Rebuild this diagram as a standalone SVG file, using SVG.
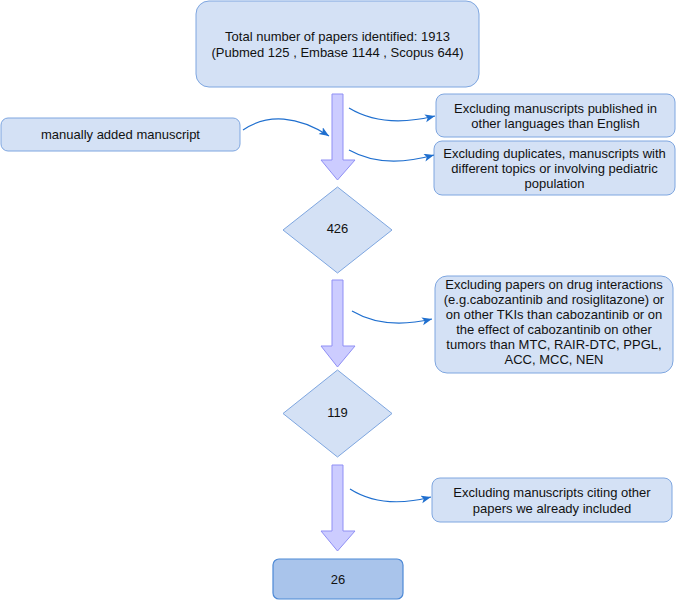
<svg xmlns="http://www.w3.org/2000/svg" width="676" height="604" viewBox="0 0 676 604">
<style>
text{font-family:"Liberation Sans",Arial,Helvetica,sans-serif;font-size:13px;fill:#111;text-anchor:middle}
.box{fill:#d4e1f5;stroke:#7ea6e0;stroke-width:1}
.final{fill:#a9c4eb;stroke:#4d89d6;stroke-width:1.2}
.big{fill:#ccccff;stroke:#8f8ff5;stroke-width:1}
.con{fill:none;stroke:#1f6fcf;stroke-width:1.2}
</style>
<defs>
<marker id="ah" markerUnits="userSpaceOnUse" markerWidth="11" markerHeight="9" refX="10" refY="4" orient="auto" viewBox="0 0 11 9">
<path d="M0,0 L10,4 L0,8 L2.5,4 z" fill="#1f6fcf"/>
</marker>
</defs>
<rect width="676" height="604" fill="#fff"/>
<g id="n-total">
<rect class="box" x="196" y="1" width="283" height="86" rx="13"/>
<text x="337.5" y="40.5">Total number of papers identified: 1913</text>
<text x="337.5" y="56.5">(Pubmed 125 , Embase 1144 , Scopus 644)</text>
</g>
<g id="n-manual">
<rect class="box" x="1" y="118" width="239" height="33" rx="7"/>
<text x="120.5" y="138.5">manually added manuscript</text>
</g>
<g id="n-excl-lang">
<rect class="box" x="436" y="94" width="239" height="43" rx="8"/>
<text x="555.5" y="113">Excluding manuscripts published in</text>
<text x="555.5" y="128">other languages than English</text>
</g>
<g id="n-excl-dup">
<rect class="box" x="434" y="141" width="241" height="54" rx="8"/>
<text x="554.5" y="157.5">Excluding duplicates, manuscripts with</text>
<text x="554.5" y="172.5">different topics or involving pediatric</text>
<text x="554.5" y="187.5">population</text>
</g>
<g id="n-426">
<polygon class="box" points="337.5,187 392,230 337.5,273 283,230"/>
<text x="337.5" y="232.5">426</text>
</g>
<g id="n-excl-drug">
<rect class="box" x="435" y="276" width="238" height="97" rx="12"/>
<text x="554" y="289">Excluding papers on drug interactions</text>
<text x="554" y="304">(e.g.cabozantinib and rosiglitazone) or</text>
<text x="554" y="319">on other TKIs than cabozantinib or on</text>
<text x="554" y="334">the effect of cabozantinib on other</text>
<text x="554" y="349">tumors than MTC, RAIR-DTC, PPGL,</text>
<text x="554" y="364">ACC, MCC, NEN</text>
</g>
<g id="n-119">
<polygon class="box" points="337.5,370 392,413.5 337.5,457 283,413.5"/>
<text x="337.5" y="416.5">119</text>
</g>
<g id="n-excl-cite">
<rect class="box" x="432" y="478" width="240" height="44" rx="8"/>
<text x="552" y="497">Excluding manuscripts citing other</text>
<text x="552" y="512.5">papers we already included</text>
</g>
<g id="n-26">
<rect class="final" x="273" y="559" width="130" height="40" rx="6"/>
<text x="338" y="584">26</text>
</g>
<g id="connectors">
<polygon class="big" points="332,94 343,94 343,160 355,160 337.5,180 321,160 332,160"/>
<polygon class="big" points="332,280 343,280 343,346 355,346 337.5,367 321,346 332,346"/>
<polygon class="big" points="332,465 343,465 343,531 355,531 337.5,551 321,531 332,531"/>
<path class="con" marker-end="url(#ah)" d="M243,130 C268,113 298,116 329,136"/>
<path class="con" marker-end="url(#ah)" d="M349,108 C372,122 402,124 435,116"/>
<path class="con" marker-end="url(#ah)" d="M349,150 C372,163 402,164 434,155"/>
<path class="con" marker-end="url(#ah)" d="M352,311 C374,324 402,326 432,319"/>
<path class="con" marker-end="url(#ah)" d="M350,489 C372,503 400,505 431,497"/>
</g>
</svg>
